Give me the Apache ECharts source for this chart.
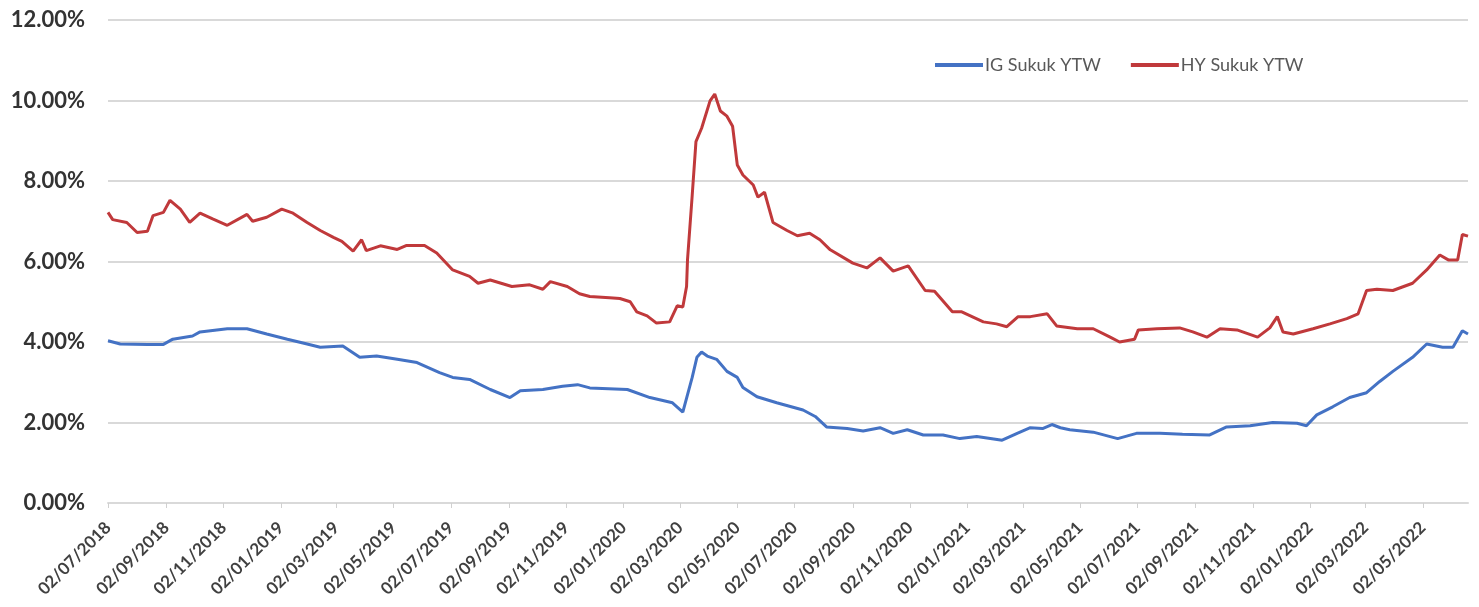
<!DOCTYPE html>
<html>
<head>
<meta charset="utf-8">
<title>IG vs HY Sukuk YTW</title>
<script src="https://cdn.jsdelivr.net/npm/echarts@6/dist/echarts.min.js"></script>
<style>
  html, body { margin: 0; padding: 0; background: #ffffff; }
  #chart { width: 1479px; height: 607px; }
</style>
</head>
<body>
<div id="chart"></div>
<script>
// Yield-to-worst of investment-grade and high-yield sukuk, in percent.
const seriesNames = ['IG Sukuk YTW', 'HY Sukuk YTW'];

const igDates = [
  '2018-07-02','2018-07-15','2018-08-13','2018-08-30','2018-09-09','2018-09-30','2018-10-08',
  '2018-11-06','2018-11-27','2018-12-18','2019-01-09','2019-01-30','2019-02-13','2019-03-09',
  '2019-03-27','2019-04-14','2019-05-06','2019-05-27','2019-06-20','2019-07-04','2019-07-22',
  '2019-08-13','2019-09-03','2019-09-14','2019-10-08','2019-10-29','2019-11-14','2019-11-27',
  '2020-01-06','2020-01-30','2020-02-23','2020-03-05','2020-03-15','2020-03-20','2020-03-25',
  '2020-03-31','2020-04-10','2020-04-21','2020-05-02','2020-05-08','2020-05-23','2020-06-13',
  '2020-07-11','2020-07-24','2020-08-05','2020-08-27','2020-09-13','2020-10-01','2020-10-15',
  '2020-10-30','2020-11-16','2020-12-07','2020-12-25','2021-01-12','2021-02-08','2021-02-24',
  '2021-03-10','2021-03-23','2021-04-02','2021-04-11','2021-04-21','2021-05-16','2021-06-11',
  '2021-07-01','2021-07-26','2021-08-19','2021-09-17','2021-10-05','2021-10-30','2021-11-23',
  '2021-12-19','2021-12-29','2022-01-09','2022-01-26','2022-02-13','2022-03-03','2022-03-17',
  '2022-03-31','2022-04-21','2022-05-06','2022-05-23','2022-06-03','2022-06-13','2022-06-19'
];
const igValues = [
  4.03,3.95,3.94,3.94,4.07,4.15,4.25,
  4.33,4.33,4.20,4.07,3.95,3.87,3.90,
  3.62,3.65,3.57,3.49,3.24,3.12,3.07,
  2.82,2.62,2.79,2.82,2.90,2.94,2.86,
  2.82,2.62,2.49,2.26,3.12,3.62,3.75,
  3.65,3.57,3.27,3.12,2.87,2.64,2.49,
  2.31,2.15,1.89,1.85,1.79,1.87,1.73,
  1.82,1.69,1.69,1.60,1.65,1.56,1.73,
  1.87,1.85,1.95,1.87,1.82,1.76,1.60,
  1.73,1.73,1.71,1.69,1.89,1.92,2.00,
  1.98,1.92,2.19,2.39,2.62,2.74,3.02,
  3.27,3.62,3.95,3.87,3.87,4.28,4.20
];

const hyDates = [
  '2018-07-02','2018-07-07','2018-07-22','2018-08-02','2018-08-13','2018-08-19','2018-08-30',
  '2018-09-06','2018-09-17','2018-09-27','2018-10-08','2018-10-22','2018-11-06','2018-11-27',
  '2018-12-03','2018-12-18','2019-01-03','2019-01-15','2019-01-30','2019-02-13','2019-02-27',
  '2019-03-08','2019-03-20','2019-03-29','2019-04-03','2019-04-18','2019-05-06','2019-05-16',
  '2019-06-04','2019-06-17','2019-07-04','2019-07-22','2019-07-31','2019-08-13','2019-09-05',
  '2019-09-24','2019-10-08','2019-10-16','2019-11-03','2019-11-16','2019-11-27','2019-12-18',
  '2019-12-29','2020-01-09','2020-01-16','2020-01-27','2020-02-06','2020-02-20','2020-02-28',
  '2020-03-05','2020-03-09','2020-03-10','2020-03-15','2020-03-19','2020-03-25','2020-04-03',
  '2020-04-08','2020-04-14','2020-04-21','2020-04-27','2020-05-02','2020-05-08','2020-05-19',
  '2020-05-24','2020-05-31','2020-06-09','2020-06-24','2020-07-05','2020-07-18','2020-07-29',
  '2020-08-09','2020-09-02','2020-09-17','2020-10-01','2020-10-15','2020-10-31','2020-11-18',
  '2020-11-28','2020-12-17','2020-12-27','2021-01-19','2021-02-02','2021-02-13','2021-02-25',
  '2021-03-10','2021-03-28','2021-04-07','2021-04-29','2021-05-16','2021-06-03','2021-06-13',
  '2021-06-29','2021-07-03','2021-07-23','2021-08-16','2021-08-30','2021-09-14','2021-09-28',
  '2021-10-16','2021-11-07','2021-11-20','2021-11-28','2021-12-04','2021-12-15','2022-01-05',
  '2022-01-23','2022-02-10','2022-02-22','2022-03-03','2022-03-14','2022-03-31','2022-04-21',
  '2022-05-06','2022-05-20','2022-05-29','2022-06-08','2022-06-13','2022-06-19'
];
const hyValues = [
  7.22,7.04,6.97,6.72,6.75,7.14,7.22,
  7.52,7.30,6.97,7.20,7.05,6.90,7.17,
  7.00,7.10,7.30,7.20,6.97,6.77,6.60,
  6.50,6.26,6.54,6.27,6.39,6.30,6.40,
  6.40,6.21,5.79,5.63,5.46,5.54,5.38,
  5.42,5.31,5.50,5.38,5.20,5.13,5.10,
  5.08,5.00,4.75,4.65,4.47,4.50,4.90,
  4.87,5.38,6.04,7.64,8.98,9.31,9.99,
  10.16,9.74,9.61,9.36,8.40,8.15,7.90,
  7.60,7.72,6.97,6.77,6.64,6.70,6.54,
  6.29,5.96,5.84,6.09,5.76,5.89,5.28,
  5.26,4.75,4.75,4.50,4.45,4.38,4.63,
  4.63,4.70,4.40,4.33,4.33,4.12,4.00,
  4.07,4.30,4.33,4.35,4.25,4.12,4.33,
  4.30,4.12,4.35,4.63,4.25,4.20,4.33,
  4.45,4.58,4.70,5.28,5.31,5.28,5.46,
  5.79,6.16,6.04,6.04,6.67,6.63
];

// Date axis tick labels (dd/mm/yyyy), every two months.
const tickLabels = [
  '02/07/2018','02/09/2018','02/11/2018','02/01/2019','02/03/2019','02/05/2019',
  '02/07/2019','02/09/2019','02/11/2019','02/01/2020','02/03/2020','02/05/2020',
  '02/07/2020','02/09/2020','02/11/2020','02/01/2021','02/03/2021','02/05/2021',
  '02/07/2021','02/09/2021','02/11/2021','02/01/2022','02/03/2022','02/05/2022'
];
const axisStart = '2018-07-02';
const axisEnd = '2022-06-19';

// Day-based timestamps (UTC) so the date axis is a plain linear scale.
function parseISO(s) {
  const [y, m, d] = s.split('-').map(Number);
  return Date.UTC(y, m - 1, d);
}
function parseDMY(s) {
  const [d, m, y] = s.split('/').map(Number);
  return Date.UTC(y, m - 1, d);
}
const tickValues = tickLabels.map(parseDMY);

function pairs(dates, values) {
  return dates.map((d, i) => [parseISO(d), values[i]]);
}

const FONT = 'Lato, "Open Sans", sans-serif';

const chart = echarts.init(document.getElementById('chart'), null, { renderer: 'canvas' });

chart.setOption({
  animation: false,
  backgroundColor: '#ffffff',
  color: ['#4472C4', '#C0393B'],
  grid: {
    left: 108,
    right: 11,
    top: 20,
    bottom: 104,
    outerBoundsMode: 'none'
  },
  legend: {
    data: seriesNames,
    left: 935,
    top: 56,
    padding: 0,
    icon: 'rect',
    itemWidth: 48,
    itemHeight: 4,
    itemGap: 30,
    textStyle: {
      color: '#595959',
      fontSize: 18,
      fontFamily: FONT,
      padding: [0, 0, 0, -3]
    }
  },
  xAxis: {
    type: 'value',
    min: parseISO(axisStart),
    max: parseISO(axisEnd),
    axisLine: { show: true, lineStyle: { color: '#d9d9d9', width: 2 } },
    axisTick: {
      show: true,
      customValues: tickValues,
      length: 5,
      lineStyle: { color: '#d0d0d0', width: 1 }
    },
    axisLabel: {
      customValues: tickValues,
      rotate: 45,
      margin: 22,
      color: '#404040',
      fontWeight: 'bold',
      fontSize: 17,
      fontFamily: FONT,
      formatter: function (value) {
        const i = tickValues.indexOf(value);
        return i >= 0 ? tickLabels[i] : '';
      }
    },
    splitLine: { show: false }
  },
  yAxis: {
    type: 'value',
    min: 0,
    max: 12,
    interval: 2,
    axisLine: { show: false },
    axisTick: { show: false },
    axisLabel: {
      margin: 23,
      color: '#333333',
      fontWeight: 'bold',
      fontSize: 22,
      fontFamily: FONT,
      formatter: function (v) { return v.toFixed(2) + '%'; }
    },
    splitLine: { lineStyle: { color: '#d9d9d9', width: 2 } }
  },
  series: [
    {
      name: seriesNames[0],
      type: 'line',
      data: pairs(igDates, igValues),
      showSymbol: false,
      symbol: 'none',
      lineStyle: { width: 3 }
    },
    {
      name: seriesNames[1],
      type: 'line',
      data: pairs(hyDates, hyValues),
      showSymbol: false,
      symbol: 'none',
      lineStyle: { width: 3 }
    }
  ]
});
</script>
</body>
</html>
